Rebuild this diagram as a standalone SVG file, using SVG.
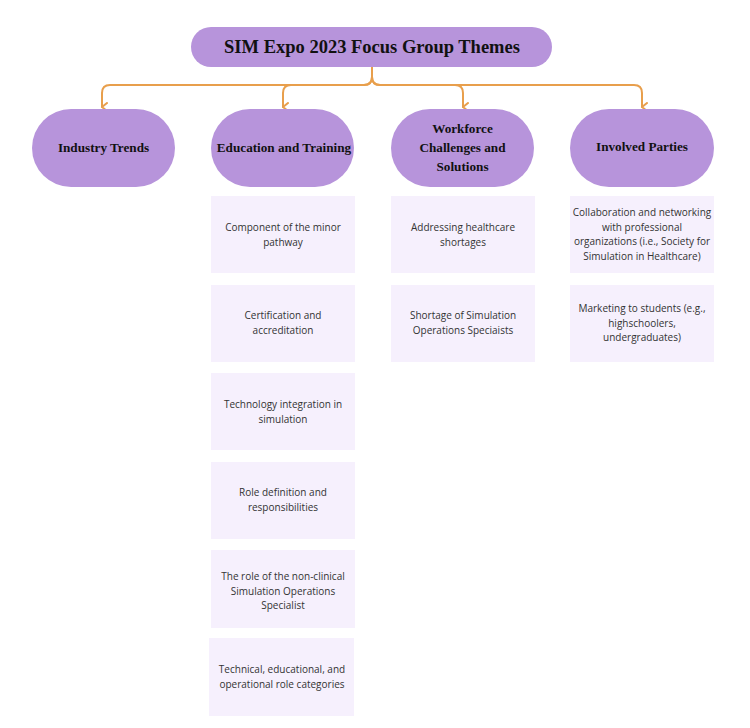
<svg xmlns="http://www.w3.org/2000/svg" width="750" height="728" viewBox="0 0 750 728">
  <style>
    .head { fill: #B794DB; }
    .item { fill: #F6F0FD; }
    .ht { font-family: "Liberation Serif", "Times New Roman", serif; font-weight: bold; fill: #111; text-anchor: middle; }
    .bt { font-family: "Open Sans", "Liberation Sans", sans-serif; font-size: 10px; fill: #333; text-anchor: middle; }
    .link { fill: none; stroke: #E89F4C; stroke-width: 2; stroke-linecap: round; stroke-linejoin: round; }
  </style>
  <defs>
    <marker id="arrow" viewBox="0 0 10 10" refX="5" refY="9" markerWidth="10" markerHeight="10" markerUnits="userSpaceOnUse" orient="auto-start-reverse">
      <polyline points="1,4 5,9 9,4" fill="none" stroke="#E89F4C" stroke-width="2" stroke-linecap="round" stroke-linejoin="round"/>
    </marker>
  </defs>
  <rect width="750" height="728" fill="#FFFFFF"/>

  <!-- connectors from the title to the four themes -->
  <g id="connectors">
    <path class="link" d="M372,67 V77 Q372,85 364,85 H110 Q102,85 102,93 V107" marker-end="url(#arrow)"/>
    <path class="link" d="M372,67 V77 Q372,85 364,85 H291 Q283,85 283,93 V107" marker-end="url(#arrow)"/>
    <path class="link" d="M372,67 V77 Q372,85 380,85 H455 Q463,85 463,93 V107" marker-end="url(#arrow)"/>
    <path class="link" d="M372,67 V77 Q372,85 380,85 H634 Q642,85 642,93 V107" marker-end="url(#arrow)"/>
  </g>

  <g id="title">
    <rect class="head" x="191" y="27" width="361" height="40" rx="20"/>
    <text class="ht" x="372" y="53" font-size="18.5">SIM Expo 2023 Focus Group Themes</text>
  </g>

  <g id="industry-trends">
    <rect class="head" x="32" y="109" width="143" height="78" rx="39"/>
    <text class="ht" x="103.5" y="152" font-size="13.2">Industry Trends</text>
  </g>

  <g id="education-training">
    <rect class="head" x="211" y="109" width="143" height="78" rx="39"/>
    <text class="ht" x="284" y="152" font-size="13.2">Education and Training</text>
  </g>

  <g id="workforce">
    <rect class="head" x="391" y="109" width="143" height="78" rx="39"/>
    <text class="ht" x="462.5" y="133" font-size="13.2">Workforce</text>
    <text class="ht" x="462.5" y="152" font-size="13.2">Challenges and</text>
    <text class="ht" x="462.5" y="171" font-size="13.2">Solutions</text>
  </g>

  <g id="involved-parties">
    <rect class="head" x="570" y="109" width="144" height="78" rx="39"/>
    <text class="ht" x="642" y="151" font-size="13.2">Involved Parties</text>
  </g>

  <!-- Education and Training items -->
  <g id="edu-1">
    <rect class="item" x="211" y="196" width="144" height="77"/>
    <text class="bt" x="283" y="231">Component of the minor</text>
    <text class="bt" x="283" y="246">pathway</text>
  </g>
  <g id="edu-2">
    <rect class="item" x="211" y="285" width="144" height="77"/>
    <text class="bt" x="283" y="319">Certification and</text>
    <text class="bt" x="283" y="334">accreditation</text>
  </g>
  <g id="edu-3">
    <rect class="item" x="211" y="373" width="144" height="77"/>
    <text class="bt" x="283" y="408">Technology integration in</text>
    <text class="bt" x="283" y="423">simulation</text>
  </g>
  <g id="edu-4">
    <rect class="item" x="211" y="462" width="144" height="77"/>
    <text class="bt" x="283" y="496">Role definition and</text>
    <text class="bt" x="283" y="511">responsibilities</text>
  </g>
  <g id="edu-5">
    <rect class="item" x="211" y="550" width="144" height="78"/>
    <text class="bt" x="283" y="580">The role of the non-clinical</text>
    <text class="bt" x="283" y="595">Simulation Operations</text>
    <text class="bt" x="283" y="609">Specialist</text>
  </g>
  <g id="edu-6">
    <rect class="item" x="209" y="638" width="145" height="78"/>
    <text class="bt" x="282" y="673">Technical, educational, and</text>
    <text class="bt" x="282" y="688">operational role categories</text>
  </g>

  <!-- Workforce items -->
  <g id="work-1">
    <rect class="item" x="391" y="196" width="144" height="77"/>
    <text class="bt" x="463" y="231">Addressing healthcare</text>
    <text class="bt" x="463" y="246">shortages</text>
  </g>
  <g id="work-2">
    <rect class="item" x="391" y="285" width="144" height="77"/>
    <text class="bt" x="463" y="319">Shortage of Simulation</text>
    <text class="bt" x="463" y="334">Operations Speciaists</text>
  </g>

  <!-- Involved Parties items -->
  <g id="party-1">
    <rect class="item" x="570" y="196" width="144" height="77"/>
    <text class="bt" x="642" y="216">Collaboration and networking</text>
    <text class="bt" x="642" y="231">with professional</text>
    <text class="bt" x="642" y="245">organizations (i.e., Society for</text>
    <text class="bt" x="642" y="260">Simulation in Healthcare)</text>
  </g>
  <g id="party-2">
    <rect class="item" x="570" y="285" width="144" height="77"/>
    <text class="bt" x="642" y="312">Marketing to students (e.g.,</text>
    <text class="bt" x="642" y="327">highschoolers,</text>
    <text class="bt" x="642" y="341">undergraduates)</text>
  </g>
</svg>
